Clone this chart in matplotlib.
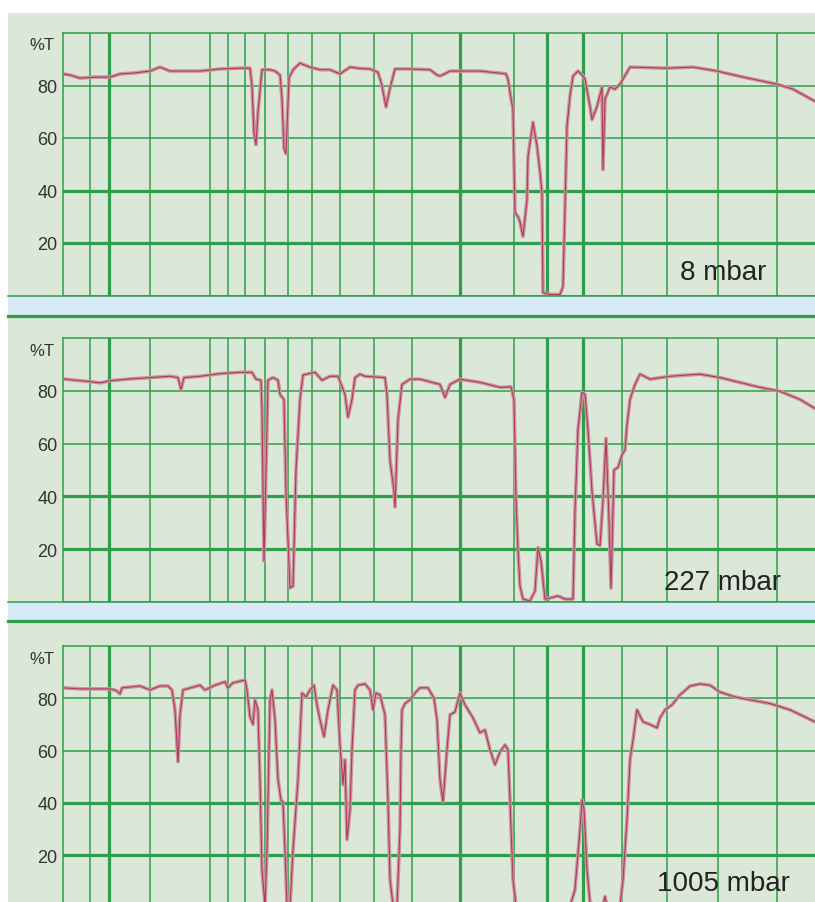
import matplotlib
matplotlib.use('Agg')
import matplotlib.pyplot as plt
from matplotlib.patches import Rectangle
from matplotlib.lines import Line2D

plt.rcParams['font.family'] = ['Liberation Sans', 'DejaVu Sans']

# spectra, x = position along the chart (arbitrary units), y = %T
x_8 = [63, 70, 80, 95, 110, 120, 135, 150, 160, 170, 185, 200, 220, 240, 250, 252, 254, 256, 258,
       262, 270, 275, 280, 282, 284, 286, 289, 293, 300, 310, 320, 330, 340, 350, 360, 370, 378,
       382, 386, 390, 395, 410, 430, 437, 440, 445, 450, 480, 500, 506, 508, 511, 513, 515, 518,
       520, 523, 527, 528, 533, 537, 540, 542, 543, 550, 560, 563, 566, 567, 570, 573, 578, 583,
       585, 590, 592, 597, 602, 603, 605, 610, 615, 620, 630, 667, 693, 717, 743, 777, 793, 815]
t_8 = [84.4, 84, 82.8, 83.2, 83.2, 84.4, 84.8, 85.5, 87, 85.5, 85.5, 85.5, 86.3, 86.6, 86.6, 80, 62,
       57.5, 70, 86, 86, 85.5, 84, 75, 56, 54, 83, 86, 88.5, 87, 86, 86, 84.4, 87, 86.5, 86.3, 85,
       80, 71.8, 79, 86.3, 86.3, 86, 84, 83.6, 84.5, 85.5, 85.5, 84.7, 84.4, 82.4, 75, 71, 31.7, 30,
       28, 22.5, 36.6, 53, 66, 57, 47, 39, 1.1, 0.4, 0.4, 3.4, 49, 64.5, 76, 83.6, 85.5, 83.6,
       82.4, 72, 67, 72, 79.4, 48, 74.8, 79.4, 78.6, 80.5, 87, 86.6, 87, 85.5, 83.2, 80.5, 78.6, 74]

x_227 = [63, 75, 90, 100, 110, 130, 150, 170, 178, 181, 184, 200, 220, 240, 252, 256, 261, 262,
         264, 266, 268, 273, 278, 280, 284, 286, 290, 293, 296, 300, 303, 315, 322, 330, 338, 345,
         348, 352, 355, 360, 365, 385, 387, 390, 394, 395, 398, 402, 410, 420, 440, 445, 450, 460,
         480, 500, 511, 514, 516, 518, 520, 523, 530, 535, 538, 541, 545, 550, 558, 565, 573, 575,
         578, 582, 585, 588, 592, 597, 600, 603, 606, 609, 611, 614, 618, 622, 625, 627, 630, 635,
         640, 650, 670, 700, 720, 760, 780, 800, 815]
t_227 = [84.5, 84, 83.5, 83, 83.8, 84.5, 85, 85.5, 85, 80.5, 85, 85.5, 86.5, 87, 87, 84.4, 84, 73,
         15.6, 50, 84, 85, 84, 78.6, 76.7, 42, 5.3, 6, 50, 76.7, 86, 87, 84, 85.5, 85.5, 78.6,
         70, 76.7, 85, 86.3, 85.5, 85, 78.6, 53.8, 42, 36, 69, 82.4, 84.4, 84.4, 82.4, 77.5, 82.4,
         84.4, 83.2, 81.3, 81.5, 76.7, 38.5, 19.5, 6, 1.1, 0.4, 4.2, 20.6, 15.6, 1.1, 1.5, 2.3, 1.1,
         1.1, 34.7, 65.3, 79.4, 78.6, 65, 42, 22, 21.4, 38.5, 62, 31, 5.3, 50, 51, 55.7, 57.6, 67,
         76.7, 82.4, 86.3, 84.4, 85.5, 86.3, 85, 81.3, 79.8, 76.7, 73.3]

x_1005 = [63, 80, 110, 116, 120, 122, 140, 150, 160, 168, 172, 175, 178, 180, 183, 200, 205, 215,
          225, 228, 233, 245, 247, 250, 253, 255, 258, 260, 262, 265, 267, 270, 272, 275, 278, 281,
          283, 285, 287, 290, 293, 298, 302, 306, 310, 314, 317, 320, 324, 328, 333, 337, 340, 343,
          345, 347, 350, 352, 355, 358, 365, 370, 373, 376, 380, 385, 388, 390, 393, 397, 400, 401,
          402, 405, 410, 415, 420, 428, 434, 437, 440, 443, 447, 450, 455, 460, 465, 473, 480, 485,
          490, 495, 500, 505, 508, 510, 513, 516, 530, 570, 575, 580, 582, 584, 587, 590, 600, 603,
          605, 607, 620, 623, 627, 630, 633, 637, 643, 650, 657, 660, 665, 672, 680, 690, 700, 710,
          720, 735, 750, 770, 790, 815]
t_1005 = [84, 83.6, 83.6, 83, 81.7, 84, 84.7, 83.2, 84.7, 84.7, 83.2, 75.6, 55.7, 73.7, 83.2, 85,
          83.2, 85, 86.3, 84, 85.9, 87, 83.2, 72.9, 70, 79.4, 75.6, 48.9, 14.5, 1, 22, 79.4, 83.2,
          71.8, 48.9, 41, 40.4, 22, 1, 0.5, 22, 48.9, 82, 80.5, 83.2, 85, 77.5, 71.8, 65.3, 75.6,
          85, 83.2, 62.2, 47, 56.5, 26, 37.4, 60.3, 83.2, 85, 85.5, 83.2, 75.6, 82, 81.3, 73.7, 41,
          10.7, 1, 0.5, 30, 60, 75.6, 78, 79.4, 82, 84, 84, 80, 71.8, 48.9, 40.4, 60.3, 73.7, 74.8,
          82, 77.5, 72.5, 66.8, 67.9, 60.3, 54.6, 59.5, 62.2, 60.3, 41, 10.7, 1, 0.5, 0.5, 6.9,
          29.8, 41.2, 37.4, 14.5, 1.9, 0.5, 1, 4.2, 0.5, 0.5, 10.7, 33.6, 56.5, 64, 75.6, 71, 70,
          68.7, 72.5, 75.6, 77.5, 81.3, 84.7, 85.5, 85, 82.4, 80.5, 79.4, 78, 75.6, 71]

labels = ['8 mbar', '227 mbar', '1005 mbar']
yticks = [20, 40, 60, 80]
thick_y = [20, 40]
thin_y = [60, 80]
thick_x = [109, 460, 547, 583]
thin_x = [90, 150, 210, 228, 245, 265, 288, 312, 340, 374, 412, 514, 622, 667, 718, 777]

BG = '#dbe7d7'
GRID = '#2f9e4c'
STRIP = '#d8e9f7'
W, H = 815, 903


def fx(px):
    return px / W


def fy(py):
    return 1 - py / H


fig = plt.figure(figsize=(W / 100, H / 100), dpi=100)
fig.add_artist(Rectangle((fx(8), 0), 1 - fx(8), fy(14), transform=fig.transFigure,
                         facecolor=BG, edgecolor='none', zorder=0))

# blue separators between the panels
for top, bot in [(297, 315), (603, 620)]:
    fig.add_artist(Rectangle((fx(8), fy(bot)), 1 - fx(8), (bot - top) / H,
                             transform=fig.transFigure, facecolor=STRIP, edgecolor='none', zorder=1))
    fig.add_artist(Line2D([fx(8), 1], [fy(top - 0.5)] * 2, color=GRID, lw=1.1, zorder=2))
    fig.add_artist(Line2D([fx(8), 1], [fy(bot + 1.5)] * 2, color=GRID, lw=2.3, zorder=2))

panels = [(34, 296.5, x_8, t_8, 280), (339, 603, x_227, t_227, 590),
          (647, 908.5, x_1005, t_1005, 891)]

for (top, bot, xs, ts, lab_y), lab in zip(panels, labels):
    ax = fig.add_axes([fx(63), fy(bot), 1 - fx(63), (bot - top) / H])
    ax.set_facecolor('none')
    ax.set_xlim(63, 815)
    ax.set_ylim(0, 100)
    for v in thin_x:
        ax.axvline(v, color=GRID, lw=1.1, zorder=1)
    for v in thick_x:
        ax.axvline(v, color=GRID, lw=2.3, zorder=1)
    for v in thin_y:
        ax.axhline(v, color=GRID, lw=1.1, zorder=1)
    for v in thick_y:
        ax.axhline(v, color=GRID, lw=2.3, zorder=1)
    for s in ['left', 'top', 'bottom']:
        ax.spines[s].set_color(GRID)
        ax.spines[s].set_linewidth(1.1)
    ax.spines['right'].set_visible(False)

    ax.plot(xs, ts, color='#c8959e', lw=2.6, zorder=3, solid_joinstyle='round')
    ax.plot(xs, ts, color='#a8103f', lw=0.7, alpha=0.75, zorder=4)

    ax.set_xticks([])
    ax.set_yticks(yticks)
    ax.tick_params(axis='y', length=0, pad=4, labelsize=13, labelcolor='#333333')

    fig.text(fx(42), fy(top + 12), '%T', ha='center', va='center', fontsize=12, color='#333333')
    fig.text(fx(723), fy(lab_y), lab, ha='center', va='baseline', fontsize=20, color='#222222')

fig.savefig('out.png', dpi=100, facecolor='white')
